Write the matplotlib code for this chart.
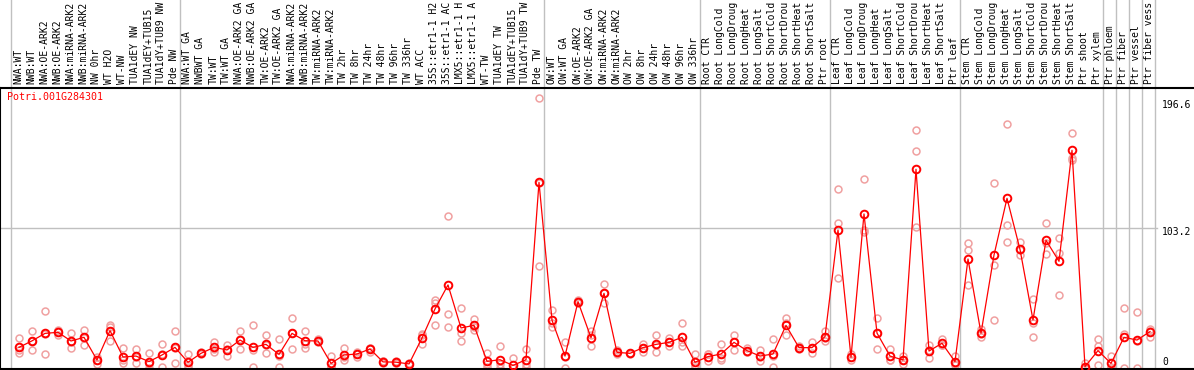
import numpy as np
import matplotlib
matplotlib.use('Agg')
import matplotlib.pyplot as plt

gene = "Potri.001G284301"

# sample names, shortened to 14 characters as in the original chart
samples = [
    "NWA:WT", "NWB:WT", "NWA:OE-ARK2", "NWB:OE-ARK2", "NWA:miRNA-ARK2", "NWB:miRNA-ARK2",
    "NW 0hr", "WT H2O", "WT-NW", "TUA1dEY NW", "TUA1dEY+TUB15", "TUA1dY+TUB9 NW", "Pde NW",
    "NWA:WT GA", "NWBWT GA", "TW:WT", "TW:WT GA", "NWA:OE-ARK2 GA", "NWB:OE-ARK2 GA",
    "TW:OE-ARK2", "TW:OE-ARK2 GA", "NWA:miRNA-ARK2", "NWB:miRNA-ARK2", "TW:miRNA-ARK2",
    "TW:miRNA-ARK2", "TW 2hr", "TW 8hr", "TW 24hr", "TW 48hr", "TW 96hr", "TW 336hr",
    "WT ACC", "35S::etr1-1 H2", "35S::etr1-1 AC", "LMX5::etr1-1 H", "LMX5::etr1-1 A",
    "WT-TW", "TUA1dEY TW", "TUA1dEY+TUB15", "TUA1dY+TUB9 TW", "Pde TW",
    "OW:WT", "OW:WT GA", "OW:OE-ARK2", "OW:OE-ARK2 GA", "OW:miRNA-ARK2", "OW:miRNA-ARK2",
    "OW 2hr", "OW 8hr", "OW 24hr", "OW 48hr", "OW 96hr", "OW 336hr",
    "Root CTR", "Root LongCold", "Root LongDroug", "Root LongHeat", "Root LongSalt",
    "Root ShortCold", "Root ShortDrou", "Root ShortHeat", "Root ShortSalt", "Ptr root",
    "Leaf CTR", "Leaf LongCold", "Leaf LongDroug", "Leaf LongHeat", "Leaf LongSalt",
    "Leaf ShortCold", "Leaf ShortDrou", "Leaf ShortHeat", "Leaf ShortSalt", "Ptr leaf",
    "Stem CTR", "Stem LongCold", "Stem LongDroug", "Stem LongHeat", "Stem LongSalt",
    "Stem ShortCold", "Stem ShortDrou", "Stem ShortHeat", "Stem ShortSalt", "Ptr shoot",
    "Ptr xylem", "Ptr phloem", "Ptr fiber", "Ptr vessel", "Ptr fiber vess",
]

# mean expression (red line)
means = [
    15.2, 20.0, 25.5, 26.3, 19.9, 22.6, 5.9, 27.5, 8.1, 8.8, 4.7, 9.6, 15.2,
    4.2, 10.8, 15.2, 13.3, 20.6, 15.2, 17.4, 10.0, 25.5, 20.1, 19.9, 3.4, 9.6,
    10.3, 14.0, 4.5, 4.3, 3.0, 22.1, 43.5, 61.2, 29.5, 31.4, 4.9, 6.1, 1.9, 6.1, 136.8,
    35.2, 8.8, 48.9, 22.3, 55.0, 11.5, 10.8, 15.0, 17.4, 18.9, 22.6, 4.2,
    8.4, 10.3, 18.9, 12.8, 8.8, 10.3, 31.4, 15.0, 15.0, 23.1,
    101.6, 7.9, 113.5, 25.7, 8.8, 5.9, 146.4, 12.5, 18.2, 4.7,
    80.3, 25.6, 83.2, 125.0, 87.4, 35.4, 94.1, 78.6, 160.4, 1.0,
    12.8, 3.4, 22.6, 20.6, 26.8,
]

# individual replicates (pale circles)
rep1 = [22, 27, 42, 28, 26, 28, 8, 32, 15, 14, 11, 18, 27,
        10, 12, 19, 17, 27, 32, 24, 21, 37, 27, 20, 9, 15,
        12, 15, 5, 4, 3, 25, 50, 112, 44, 36, 11, 16, 7, 14, 199,
        43, 19, 49, 27, 62, 13, 11, 18, 24, 22, 33, 10,
        10, 18, 24, 15, 13, 21, 37, 15, 19, 27,
        132, 10, 139, 37, 14, 9, 175, 17, 21, 9,
        92, 29, 136, 180, 93, 51, 107, 96, 173, 4,
        21, 9, 44, 41, 29]
rep2 = [13, 13, 10, 24, 15, 17, 3, 20, 4, 4, 3, 10, 4,
        1, 10, 12, 9, 14, 1, 11, 1, 14, 15, 19, 1, 6,
        8, 12, 4, 4, 2, 18, 48, 40, 26, 28, 1, 3, 0, 3, 136,
        30, 0, 50, 16, 48, 10, 10, 12, 12, 16, 16, 1,
        5, 6, 13, 12, 5, 1, 24, 16, 11, 20,
        107, 6, 102, 14, 6, 3, 160, 7, 17, 2,
        87, 23, 76, 105, 83, 33, 84, 85, 155, 0,
        16, 1, 25, 20, 23]
rep3 = [11, 20, 25, 27, 19, 22, 6, 30, 6, 8, 0, 1, 15,
        2, 11, 14, 14, 21, 13, 17, 9, 26, 18, 21, 1, 8,
        10, 15, 5, 5, 4, 24, 32, 30, 20, 30, 3, 0, 0, 1, 75,
        33, 8, 48, 24, 55, 12, 11, 15, 17, 19, 19, 2,
        10, 7, 19, 12, 8, 9, 33, 14, 15, 22,
        66, 8, 100, 26, 6, 6, 104, 13, 17, 3,
        61, 25, 35, 93, 87, 23, 92, 54, 153, 0,
        2, 0, 0, 0, 27]

# first sample index of each block (for the grey separators)
block_starts = [0, 13, 41, 53, 63, 73, 84, 85, 86, 87, 88]

y_ticks = [196.6, 103.2, 0]

W, H = 1194, 370
fig = plt.figure(figsize=(W / 100, H / 100), dpi=100)
# plot box: x 0..1194 px, y 88..369 px from the top
ax = fig.add_axes([0, (H - 369) / H, 1, (369 - 88) / H])

x = np.arange(len(samples))
ax.set_xlim(-19 / 13, (W - 19) / 13)
ax.set_ylim(-0.74, 206.3)

grey = '#c0c0c0'
ext = (369 - 0) / (369 - 88)
for s in block_starts:
    ax.axvline(s - 0.65, ymin=0, ymax=ext, color=grey, lw=1, clip_on=False, zorder=0)
ax.axhline(103.2, xmin=0, xmax=1157 / W, color=grey, lw=1, zorder=0)

for r in (rep1, rep2, rep3):
    ax.plot(x, r, 'o', ms=5, mfc='none', mec='#f0a0a0', mew=1.1, zorder=2)
ax.plot(x, means, '-', color='red', lw=0.9, zorder=3)
ax.plot(x, means, 'o', ms=5.5, mfc='none', mec='red', mew=1.4, zorder=4)

ax.spines['right'].set_visible(False)
for sp in ('left', 'bottom', 'top'):
    ax.spines[sp].set_linewidth(1.5)
    ax.spines[sp].set_color('black')
ax.set_xticks([])
ax.set_yticks([])

mono = 'DejaVu Sans Mono'
lab_y = 1 + 4 / 281
for i, name in enumerate(samples):
    ax.text(i - 0.05, lab_y, name, transform=ax.get_xaxis_transform(), rotation=90,
            ha='center', va='bottom', fontsize=7.0, family=mono, clip_on=False)

tx = (1162 - 19) / 13
for v in y_ticks:
    yy = 4.5 if v == 0 else v - 3
    ax.text(tx, yy, f"{v:g}", ha='left', va='center', fontsize=7, family=mono)

ax.text(7 / W, (369 - 97) / 281, gene, transform=ax.transAxes, ha='left', va='center',
        fontsize=7.2, family=mono, color='red')

fig.savefig('out.png', dpi=100)
